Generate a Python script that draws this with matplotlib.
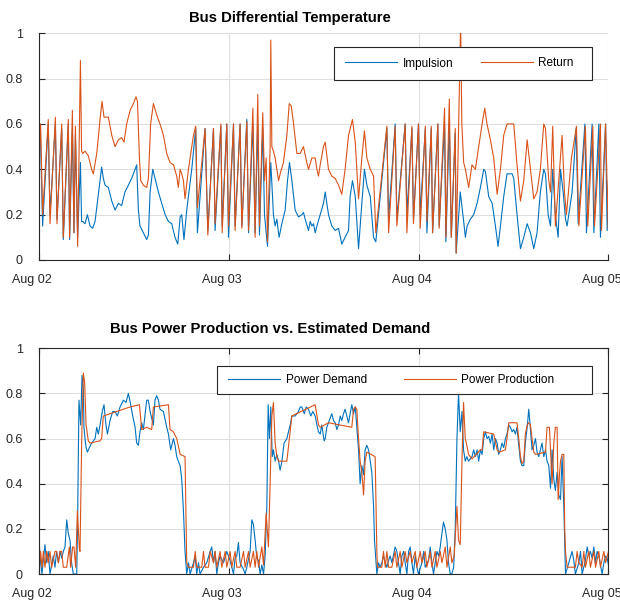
import numpy as np
import matplotlib
matplotlib.use("Agg")
import matplotlib.pyplot as plt
import matplotlib.dates as mdates
from matplotlib.patches import Rectangle
from matplotlib.transforms import ScaledTranslation

plt.rcParams['font.family'] = ['Liberation Sans', 'DejaVu Sans']

# (hours since Aug 02 00:00, value)
impulsion = [(0,0.5),(0.12,0.6),(0.42,0.15),(1.14,0.6),(1.35,0.2),(2.03,0.6),(2.24,0.18),(2.83,0.58),(3.04,0.09),(3.67,0.6),(3.84,0.09),(4.18,0.58),(4.39,0.12),(4.56,0.55),(4.85,0.1),(5.2,0.43),(5.35,0.17),
    (5.49,0.17),(5.78,0.16),(6.08,0.2),(6.41,0.15),(6.75,0.14),(7.05,0.17),(7.34,0.25),(7.68,0.35),(7.89,0.41),(8.1,0.36),(8.31,0.33),(8.73,0.32),(9.16,0.26),(9.58,0.22),(10.0,0.25),(10.42,0.24),(10.84,0.3),(11.27,0.33),(11.69,0.36),(12.11,0.4),(12.32,0.42),(12.53,0.22),(12.74,0.15),(13.16,0.12),(13.59,0.09),(13.8,0.11),(14.01,0.3),(14.35,0.4),(14.64,0.36),(15.06,0.3),(15.49,0.25),(15.91,0.2),(16.33,0.17),(16.75,0.16),(17.17,0.1),(17.51,0.07),(17.81,0.19),(18.02,0.2),(18.3,0.09),(18.65,0.22),(19.28,0.4),(19.79,0.58),
    (20.0,0.12),(20.97,0.58),(21.31,0.13),(22.03,0.58),(22.24,0.13),(22.96,0.59),(23.13,0.15),(23.72,0.6),(23.93,0.1),(24.56,0.6),(24.77,0.15),(25.4,0.6),(25.62,0.15),(26.25,0.62),(26.46,0.12),(27.01,0.6),(27.3,0.12),(27.64,0.6),(27.85,0.11),(28.27,0.58),(28.48,0.2),(28.86,0.06),(29.29,0.43),
    (29.62,0.2),(29.84,0.15),(30.05,0.18),(30.34,0.1),(30.68,0.16),(31.1,0.22),(31.4,0.35),(31.65,0.43),(31.95,0.35),(32.37,0.22),(32.79,0.19),(33.21,0.2),(33.42,0.21),(33.63,0.18),(34.05,0.13),(34.27,0.17),(34.48,0.15),(34.69,0.16),(34.9,0.12),(35.11,0.15),(35.53,0.2),(35.95,0.25),(36.16,0.3),(36.58,0.2),(37.0,0.15),(37.43,0.13),(37.85,0.14),(38.27,0.07),(38.69,0.1),(39.11,0.13),(39.32,0.28),(39.62,0.35),(39.96,0.28),(40.38,0.05),(40.8,0.25),(41.14,0.4),(41.43,0.33),(41.86,0.28),(42.28,0.1),(42.57,0.08),
    (43.97,0.58),(44.18,0.18),(45.02,0.6),(45.23,0.18),(46.29,0.6),(46.5,0.2),(47.13,0.58),(47.34,0.18),(47.97,0.6),(48.19,0.2),(48.84,0.58),(49.03,0.12),(49.58,0.58),(49.75,0.12),(50.42,0.6),(50.59,0.15),(51.27,0.6),(51.43,0.08),(51.86,0.6),(52.11,0.1),(52.62,0.56),(52.74,0.03),(53.25,0.3),(53.68,0.17),
    (53.9,0.1),(54.11,0.15),(54.53,0.18),(54.95,0.2),(55.38,0.25),(55.8,0.32),(56.22,0.4),(56.43,0.39),(56.85,0.28),(57.28,0.25),(57.7,0.15),(58.04,0.06),(58.33,0.15),(58.75,0.28),(59.17,0.38),(59.81,0.38),(60.02,0.36),(60.44,0.2),(60.86,0.05),(61.28,0.1),(61.71,0.16),(62.13,0.12),(62.55,0.05),(62.97,0.12),(63.39,0.3),(63.82,0.4),(64.03,0.38),(64.36,0.2),(64.66,0.15),(64.95,0.4),(65.29,0.2),(65.63,0.1),(65.93,0.4),(66.26,0.3),(66.56,0.18),(66.77,0.15),(67.4,0.3),(67.91,0.58),(68.16,0.16),(69.01,0.6),(69.22,0.12),(69.94,0.6),(70.15,0.12),(70.78,0.6),(70.99,0.1),(71.63,0.6),(71.84,0.13),(72.0,0.35)]

ret = [(0,0.47),(0.17,0.6),(0.42,0.2),(1.14,0.62),(1.35,0.16),(2.03,0.63),(2.24,0.16),(2.83,0.6),(3.04,0.1),(3.67,0.62),(3.84,0.1),(4.18,0.66),(4.39,0.12),(4.56,0.59),(4.85,0.06),(5.2,0.88),(5.35,0.48),
    (5.49,0.47),(5.78,0.48),(6.2,0.46),(6.62,0.4),(6.84,0.38),(7.26,0.47),(7.68,0.62),(7.93,0.7),(8.19,0.63),(8.73,0.63),(9.16,0.55),(9.58,0.5),(10.0,0.53),(10.42,0.54),(10.72,0.52),(11.05,0.6),(11.48,0.66),(11.9,0.69),(12.24,0.72),(12.41,0.7),(12.66,0.45),(12.83,0.35),(13.16,0.33),(13.59,0.32),(13.8,0.36),(14.09,0.6),(14.43,0.69),(14.85,0.64),(15.27,0.6),(15.7,0.55),(16.12,0.47),(16.54,0.43),(16.96,0.42),(17.38,0.37),(17.59,0.32),(17.81,0.4),(18.02,0.38),(18.23,0.35),(18.44,0.27),(18.86,0.4),(19.5,0.55),(19.79,0.59),
    (20.0,0.23),(20.97,0.58),(21.31,0.11),(22.03,0.58),(22.24,0.16),(22.96,0.6),(23.13,0.12),(23.72,0.6),(23.93,0.15),(24.56,0.6),(24.77,0.13),(25.4,0.6),(25.62,0.14),(26.25,0.61),(26.46,0.13),(27.01,0.67),(27.3,0.1),(27.64,0.73),(27.85,0.15),(28.27,0.65),(28.48,0.35),(28.7,0.45),(28.86,0.08),(29.2,0.5),(29.29,0.97),(29.41,0.5),
    (29.62,0.48),(29.84,0.45),(30.26,0.35),(30.47,0.38),(30.89,0.43),(31.31,0.55),(31.61,0.69),(31.86,0.68),(32.16,0.6),(32.58,0.47),(33.0,0.47),(33.42,0.5),(33.84,0.43),(34.05,0.4),(34.48,0.45),(34.9,0.45),(35.11,0.4),(35.32,0.37),(35.53,0.42),(35.95,0.5),(36.16,0.52),(36.58,0.4),(37.0,0.37),(37.43,0.36),(37.85,0.33),(38.27,0.29),(38.69,0.4),(39.11,0.55),(39.62,0.62),(39.96,0.52),(40.38,0.27),(40.8,0.45),(41.14,0.57),(41.43,0.45),(41.86,0.4),(42.28,0.37),(42.57,0.12),
    (43.97,0.59),(44.18,0.12),(45.02,0.59),(45.23,0.15),(46.29,0.6),(46.5,0.12),(47.13,0.59),(47.34,0.16),(47.97,0.6),(48.19,0.14),(48.84,0.59),(49.03,0.17),(49.58,0.59),(49.75,0.12),(50.42,0.6),(50.59,0.14),(51.27,0.67),(51.43,0.1),(51.86,0.71),(52.11,0.1),(52.62,0.58),(52.74,0.03),(53.3,1.05),(53.45,0.6),(53.68,0.43),
    (53.9,0.4),(54.32,0.32),(54.74,0.42),(55.17,0.4),(55.59,0.5),(56.01,0.6),(56.35,0.67),(56.64,0.6),(57.06,0.53),(57.49,0.45),(57.91,0.29),(58.33,0.4),(58.75,0.55),(59.17,0.6),(59.81,0.6),(60.02,0.6),(60.44,0.42),(60.86,0.26),(61.28,0.35),(61.71,0.53),(62.13,0.4),(62.55,0.27),(62.97,0.3),(63.39,0.4),(63.82,0.6),(64.03,0.58),(64.45,0.35),(64.66,0.3),(64.95,0.59),(65.29,0.15),(66.14,0.55),(66.43,0.3),(66.68,0.2),(67.32,0.45),(67.95,0.59),(68.25,0.15),(69.09,0.59),(69.39,0.15),(70.02,0.59),(70.23,0.15),(70.99,0.6),(71.12,0.13),(71.63,0.6),(71.96,0.14),(72.0,0.35)]

demand = [(0,0.13),(0.17,0.05),(0.34,0.0),(0.72,0.13),(0.93,0.05),(1.14,0.1),(1.35,0.0),(1.77,0.08),(1.98,0.03),(2.19,0.1),(2.41,0.05),(2.62,0.1),(2.83,0.07),(3.04,0.1),(3.25,0.12),(3.46,0.24),(3.67,0.18),(3.88,0.15),(4.09,0.05),(4.3,0.0),(4.73,0.0),(4.85,0.25),(5.02,0.77),(5.23,0.66),(5.4,0.88),(5.57,0.82),(5.65,0.65),(5.78,0.6),(5.91,0.56),(6.08,0.54),(6.33,0.56),(6.62,0.58),(7.05,0.6),(7.26,0.65),(7.47,0.62),(7.68,0.66),(7.97,0.72),(8.19,0.75),(8.44,0.66),(8.61,0.62),(8.95,0.68),(9.28,0.72),(9.58,0.72),(9.87,0.7),(10.21,0.74),(10.63,0.77),(10.97,0.76),(11.27,0.8),(11.56,0.75),(11.81,0.7),(12.11,0.65),(12.32,0.58),(12.53,0.57),(12.74,0.63),(12.95,0.67),(13.16,0.64),(13.59,0.77),(13.8,0.77),(14.01,0.72),(14.22,0.69),(14.43,0.66),(14.64,0.77),(14.85,0.79),(15.06,0.77),(15.27,0.73),(15.7,0.72),(16.12,0.65),(16.33,0.62),(16.62,0.55),(16.96,0.6),(17.17,0.57),(17.38,0.52),(17.59,0.5),(17.81,0.48),(18.02,0.42),(18.23,0.28),(18.44,0.1),(18.65,0.0),
    (18.86,0.05),(19.08,0.0),(19.5,0.05),(19.71,0.08),(19.92,0.0),(20.13,0.05),(20.34,0.0),(20.76,0.03),(21.19,0.05),(21.61,0.1),(21.82,0.12),(22.03,0.05),(22.24,0.1),(22.45,0.0),(22.66,0.05),(22.87,0.08),(23.3,0.05),(23.72,0.1),(24.14,0.06),(24.56,0.0),(24.77,0.07),(24.98,0.08),(25.19,0.14),(25.4,0.05),(25.83,0.02),(26.04,0.0),(26.25,0.03),(26.67,0.1),(26.88,0.24),(27.09,0.22),(27.3,0.15),(27.51,0.07),(27.73,0.06),(27.94,0.0),(28.15,0.04),(28.36,0.0),(28.57,0.08),(28.78,0.3),(28.95,0.75),(29.12,0.6),(29.29,0.74),(29.46,0.52),(29.62,0.55),(29.84,0.5),(30.05,0.53),(30.26,0.5),(30.47,0.46),(30.68,0.5),(30.97,0.58),(31.31,0.6),(31.52,0.63),(31.73,0.66),(31.95,0.7),(32.37,0.7),(32.79,0.72),(33.0,0.74),(33.21,0.74),(33.51,0.71),(33.76,0.74),(34.05,0.73),(34.35,0.7),(34.6,0.72),(34.9,0.7),(35.11,0.66),(35.32,0.63),(35.53,0.62),(35.74,0.66),(36.04,0.59),
    (36.16,0.6),(36.37,0.65),(36.58,0.67),(36.79,0.69),(37.0,0.71),(37.21,0.68),(37.43,0.67),(37.64,0.64),(37.85,0.66),(38.06,0.7),(38.27,0.68),(38.48,0.71),(38.69,0.73),(38.9,0.7),(39.11,0.67),(39.32,0.71),(39.54,0.75),(39.75,0.71),(39.96,0.74),(40.17,0.65),(40.38,0.55),(40.59,0.4),(40.8,0.48),(41.01,0.44),(41.22,0.55),(41.43,0.57),(41.65,0.55),(41.86,0.5),(42.07,0.45),(42.28,0.3),(42.4,0.15),(42.7,0.0),(42.91,0.05),(43.12,0.03),(43.33,0.05),(43.54,0.08),(43.76,0.05),(43.97,0.03),(44.18,0.06),(44.39,0.08),(44.6,0.05),(45.02,0.12),(45.23,0.1),(45.44,0.05),(45.65,0.0),(45.86,0.08),(46.08,0.1),(46.29,0.05),(46.5,0.0),(46.71,0.1),(46.92,0.12),(47.13,0.05),(47.34,0.0),(47.55,0.08),(47.76,0.03),(47.97,0.0),(48.4,0.05),(48.61,0.1),(48.82,0.03),(49.24,0.06),(49.45,0.12),(49.66,0.05),(49.87,0.0),(50.08,0.05),(50.3,0.1),(50.51,0.08),(50.72,0.12),(50.93,0.18),(51.14,0.23),(51.35,0.2),(51.56,0.15),(51.77,0.05),(51.98,0.0),(52.19,0.0),(52.41,0.03),(52.62,0.2),(52.83,0.6),(53.04,0.8),(53.25,0.63),(53.46,0.72),(53.67,0.55),(53.88,0.5),(54.09,0.52),(54.3,0.5),
    (54.74,0.52),(54.95,0.55),(55.17,0.52),(55.38,0.55),(55.59,0.5),(55.8,0.55),(56.01,0.53),(56.22,0.6),(56.43,0.63),(56.64,0.6),(56.85,0.61),(57.06,0.58),(57.28,0.62),(57.49,0.55),(57.7,0.6),(57.91,0.58),(58.12,0.53),(58.33,0.55),(58.54,0.58),(58.75,0.56),(58.96,0.6),(59.17,0.62),(59.39,0.66),(59.6,0.65),(59.81,0.63),(60.02,0.64),(60.23,0.62),(60.44,0.65),(60.65,0.57),(60.86,0.5),(61.07,0.48),(61.28,0.48),(61.49,0.58),(61.71,0.65),(61.92,0.73),(62.13,0.64),(62.34,0.55),(62.55,0.57),(62.76,0.6),(62.97,0.54),(63.18,0.52),(63.39,0.55),(63.6,0.58),(63.82,0.52),(64.03,0.55),(64.24,0.5),(64.45,0.48),(64.66,0.38),(64.87,0.55),(65.08,0.42),(65.29,0.37),(65.5,0.45),(65.71,0.35),(65.93,0.33),(66.14,0.52),(66.35,0.3),(66.56,0.0),(66.98,0.05),(67.4,0.1),(67.61,0.06),(67.82,0.0),(68.25,0.05),(68.46,0.1),(68.67,0.0),(69.09,0.06),(69.3,0.12),(69.51,0.08),(69.72,0.1),(69.94,0.07),(70.15,0.12),(70.36,0.05),(70.57,0.1),(70.78,0.08),(70.99,0.04),(71.2,0.0),(71.41,0.05),(71.63,0.08),(71.84,0.07),(72.0,0.04)]

production = [(0,0.03),(0.17,0.1),(0.34,0.03),(0.51,0.1),(0.72,0.03),(0.93,0.1),(1.14,0.05),(1.35,0.1),(1.56,0.03),(1.98,0.1),(2.19,0.1),(2.41,0.05),(2.62,0.1),(2.83,0.1),(3.04,0.03),(3.46,0.03),(3.8,0.12),(3.97,0.03),(4.22,0.12),(4.39,0.12),(4.6,0.03),(4.81,0.28),(5.06,0.11),(5.15,0.1),(5.36,0.6),(5.57,0.89),(5.74,0.85),(5.91,0.66),(6.2,0.59),(6.41,0.58),(7.68,0.59),(7.89,0.6),(8.1,0.7),(8.95,0.71),(9.79,0.72),(10.63,0.73),(11.48,0.74),(12.66,0.75),(12.95,0.64),(13.59,0.65),(14.22,0.64),(14.43,0.74),(16.33,0.75),(16.54,0.64),(16.96,0.63),(17.38,0.6),(17.81,0.53),(18.44,0.52),(18.65,0.05),
    (18.86,0.03),(19.5,0.03),(19.71,0.1),(19.92,0.03),(20.55,0.03),(20.76,0.1),(20.97,0.03),(21.4,0.03),(21.61,0.1),(22.03,0.05),(22.24,0.1),(22.45,0.03),(22.87,0.1),(23.08,0.03),(23.51,0.1),(23.72,0.03),(24.14,0.1),(24.35,0.03),(24.77,0.1),(24.98,0.03),(25.4,0.03),(25.83,0.1),(26.04,0.03),(26.46,0.1),(26.67,0.03),(27.09,0.1),(27.3,0.03),(27.51,0.1),(27.73,0.03),(28.15,0.12),(28.36,0.04),(28.7,0.27),(28.99,0.12),(29.2,0.4),(29.41,0.7),(29.62,0.76),(29.84,0.58),(30.05,0.52),(30.26,0.5),(31.31,0.5),(31.95,0.7),(34.9,0.75),(35.32,0.66),(35.53,0.65),(36.59,0.67),(39.54,0.65),(39.75,0.73),(39.96,0.74),(40.17,0.73),(40.38,0.6),(40.59,0.5),(40.8,0.45),(41.01,0.35),(41.22,0.5),(41.43,0.54),(42.49,0.52),(42.7,0.1),(42.78,0.03),
    (43.33,0.03),(43.54,0.1),(43.76,0.03),(43.97,0.1),(44.18,0.03),(44.6,0.03),(45.02,0.1),(45.23,0.03),(45.65,0.1),(45.86,0.03),(46.29,0.1),(46.5,0.05),(46.92,0.1),(47.13,0.05),(47.55,0.1),(47.76,0.03),(48.19,0.1),(48.4,0.05),(48.82,0.1),(49.03,0.03),(49.45,0.1),(49.66,0.03),(50.08,0.1),(50.3,0.03),(50.72,0.1),(50.93,0.05),(51.35,0.12),(51.56,0.03),(51.98,0.12),(52.19,0.05),(52.49,0.08),(52.83,0.3),(53.04,0.15),(53.25,0.13),(53.46,0.5),(53.67,0.76),(53.88,0.6),(54.09,0.57),(54.3,0.53),(54.73,0.51),(55.8,0.55),(56.01,0.55),(56.22,0.63),(57.49,0.62),(57.91,0.55),(58.12,0.54),(58.96,0.55),(59.17,0.6),(59.39,0.67),(60.44,0.67),(60.65,0.6),(60.86,0.52),(61.07,0.49),(61.28,0.5),(61.49,0.62),(61.71,0.66),(61.92,0.67),(62.13,0.66),(62.34,0.6),(62.55,0.54),(62.76,0.53),(64.03,0.54),(64.24,0.65),(64.53,0.65),(64.66,0.55),(64.87,0.4),(65.08,0.58),(65.29,0.65),(65.5,0.65),(65.63,0.33),(65.8,0.44),(65.93,0.5),(66.14,0.53),(66.35,0.53),(66.47,0.2),(66.56,0.1),(66.77,0.03),(67.82,0.03),(68.04,0.1),(68.25,0.05),(68.67,0.03),(68.88,0.1),(69.09,0.03),(69.51,0.1),(69.72,0.03),(70.15,0.1),(70.36,0.03),(70.78,0.1),(70.99,0.03),(71.41,0.1),(71.63,0.05),(72.0,0.1)]

start = np.datetime64('2021-08-02T00:00')
end = np.datetime64('2021-08-05T00:00')
day_ticks = np.arange(start, end + np.timedelta64(1, 'D'), np.timedelta64(1, 'D'))

def to_series(pts):
    h, v = np.array(pts).T
    t = start + (h * 60).round().astype(int).astype('timedelta64[m]')
    return t, v

blue = '#0072BD'
orange = '#D95319'
dark = '#262626'

fig = plt.figure(figsize=(6.2, 6.01), dpi=100)
ax1 = fig.add_axes([0.0634, 0.5674, 0.918, 0.3772])
ax2 = fig.add_axes([0.0634, 0.0449, 0.918, 0.3756])

def style(ax, box):
    ax.set_xlim(start, end)
    ax.set_ylim(0, 1)
    ax.set_xticks(day_ticks)
    ax.xaxis.set_major_formatter(mdates.DateFormatter('%b %d'))
    ax.set_yticks([0, 0.2, 0.4, 0.6, 0.8, 1])
    ax.set_yticklabels(['0', '0.2', '0.4', '0.6', '0.8', '1'])
    ax.grid(True, color='#dfdfdf', linewidth=0.8)
    ax.set_axisbelow(True)
    ax.tick_params(direction='in', length=4, width=0.8, colors=dark, labelsize=9,
                   top=box, right=box)
    ax.tick_params(axis='y', pad=12)
    ax.tick_params(axis='x', pad=10)
    # labels sit a little left of their ticks in the original
    shift = ScaledTranslation(-7 / 100, 0, fig.dpi_scale_trans)
    for lab in ax.get_xticklabels():
        lab.set_transform(lab.get_transform() + shift)
    for s in ax.spines.values():
        s.set_color(dark)
        s.set_linewidth(0.8)
    if not box:
        ax.spines['top'].set_visible(False)
        ax.spines['right'].set_visible(False)

def legend_box(ax, x0, y0, x1, y1, handle_x):
    # frame in figure pixels (from top-left), legend entries placed inside
    W, H = 620, 601
    ax.add_patch(Rectangle((x0 / W, 1 - y1 / H), (x1 - x0) / W, (y1 - y0) / H,
                           transform=fig.transFigure, facecolor='white', edgecolor=dark,
                           linewidth=0.8, zorder=4, clip_on=False))
    return (handle_x / W, 1 - (y0 + y1) / 2 / H)

style(ax1, False)
style(ax2, True)

t, v = to_series(impulsion)
ax1.plot(t, v, color=blue, lw=0.8, label='Impulsion')
t, v = to_series(ret)
ax1.plot(t, v, color=orange, lw=0.8, label='Return')
ax1.set_title('Bus Differential Temperature', fontsize=10.7, fontweight='bold', x=0.44, pad=8)
anchor = legend_box(ax1, 334, 47, 592, 80, 345)
ax1.legend(loc='center left', bbox_to_anchor=anchor, bbox_transform=fig.transFigure,
           ncol=2, fontsize=8.5, frameon=False, handlelength=4.4, handletextpad=0.5,
           columnspacing=2.3, borderpad=0, borderaxespad=0)

t, v = to_series(demand)
ax2.plot(t, v, color=blue, lw=0.8, label='Power Demand')
t, v = to_series(production)
ax2.plot(t, v, color=orange, lw=0.8, label='Power Production')
ax2.set_title('Bus Power Production vs. Estimated Demand', fontsize=10.6, fontweight='bold',
              x=0.405, pad=11)
anchor = legend_box(ax2, 217, 366, 592, 394, 228)
ax2.legend(loc='center left', bbox_to_anchor=anchor, bbox_transform=fig.transFigure,
           ncol=2, fontsize=8.5, frameon=False, handlelength=4.4, handletextpad=0.5,
           columnspacing=3.1, borderpad=0, borderaxespad=0)

fig.savefig('out.png', dpi=100)
